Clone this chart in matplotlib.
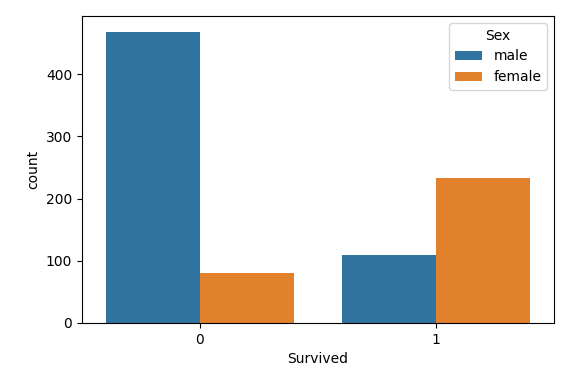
import matplotlib
matplotlib.use("Agg")
import matplotlib.pyplot as plt
import numpy as np

categories = ["0", "1"]
hue_levels = ["male", "female"]
male_counts = [468, 109]
female_counts = [81, 233]
colors = ["#3274a1", "#e1812c"]

fig = plt.figure(figsize=(5.88, 3.73), dpi=100)
ax = fig.add_axes([82/588, 50/373, (554-82)/588, (323-16)/373])

x = np.arange(len(categories))
w = 0.4
ax.bar(x - w/2, male_counts, width=w, color=colors[0], label=hue_levels[0])
ax.bar(x + w/2, female_counts, width=w, color=colors[1], label=hue_levels[1])

ax.set_xticks(x)
ax.set_xticklabels(categories)
ax.set_xlim(-0.5, 1.5)
ax.set_ylim(0, max(male_counts + female_counts) * 1.055)
ax.set_yticks([0, 100, 200, 300, 400])
ax.set_xlabel("Survived")
ax.set_ylabel("count")
ax.legend(title="Sex", loc="upper right")

fig.savefig("out.png", dpi=100)
